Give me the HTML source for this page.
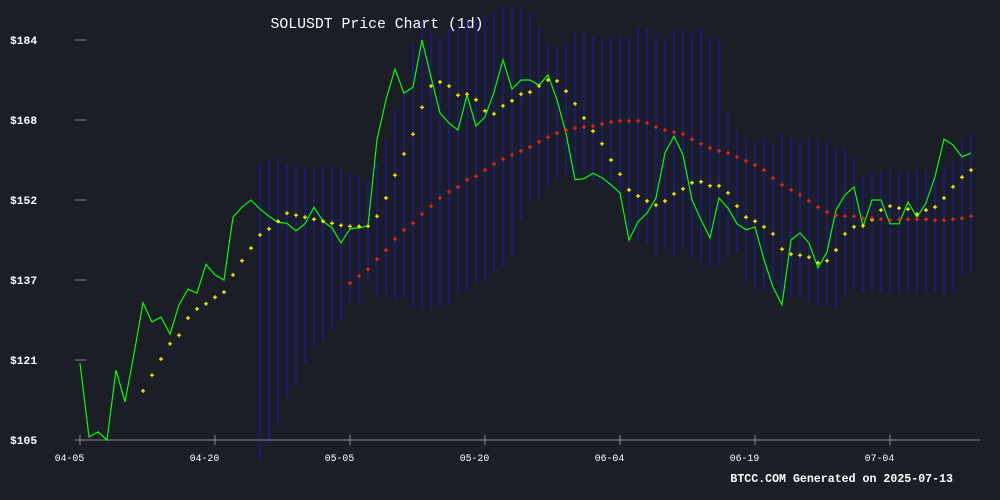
<!DOCTYPE html>
<html><head><meta charset="utf-8"><style>
html,body{margin:0;padding:0;background:#1b1e27;}
svg{display:block;font-family:"Liberation Mono","DejaVu Sans Mono",monospace;}
</style></head><body>
<svg id="chart" width="1000" height="500" viewBox="0 0 1000 500" xmlns="http://www.w3.org/2000/svg">
<rect width="1000" height="500" fill="#1b1e27"/>
<text x="377" y="28" fill="#ffffff" font-size="14.8" text-anchor="middle">SOLUSDT Price Chart (1d)</text>
<text x="953" y="482" fill="#ffffff" font-size="11.6" font-weight="bold" text-anchor="end">BTCC.COM Generated on 2025-07-13</text>
<g id="bands"></g>
<g id="axes"></g>
<g id="lines"></g>
</svg>
<script>
const closes=[120.2,105.6,106.6,105,118.8,112.5,122,132.1,128.3,129.3,125.9,131.7,134.8,134,139.7,137.6,136.6,149,151,152.4,150.6,149.2,148,147.8,146.3,147.7,151,148.2,146.9,143.9,146.7,146.9,147.3,164.3,172.2,178.3,173.5,174.7,184,176.7,169.6,167.6,166.2,173.1,167,168.8,173.7,180.1,174.3,176.1,176.1,175.1,177.1,172.2,165.6,156.4,156.6,157.7,156.8,155.4,153.8,144.5,148.1,149.8,152.8,161.7,165,161.3,152.4,148.5,144.9,152.8,150.8,147.7,146.5,147.1,140.6,135.2,131.7,144.5,145.9,143.9,139,142.1,150.4,153.4,155,147.1,152.4,152.4,147.7,147.7,152,149,151.8,157,164.4,163.3,160.9,161.7];
const maFastStart=7;
const maFast=[114.7,117.8,121,124,125.7,129.1,130.9,131.9,133.2,134.2,137.6,140.4,142.9,145.5,146.7,148.2,149.8,149.4,149,148.6,148.2,147.8,147.4,147.2,147.2,147.2,149.2,152.8,157.3,161.5,165.4,170.7,174.9,175.7,174.9,173.1,173.3,172.2,170,169.4,171,172,173.3,173.7,174.9,176.1,175.9,173.9,171.4,168.6,166,163.5,160.3,157.5,154.4,153.2,152.2,151.4,152.2,153.6,154.6,155.8,156,155.2,155.2,153.8,151.2,149,148.2,147.1,145.7,142.7,141.7,141.5,141.1,140,140.4,142.5,145.7,147.1,147.3,148.5,150.4,151.2,150.8,150.6,149.6,150.4,151,152.8,155,156.9,158.3];
const maSlowStart=30;
const maSlow=[136,137.4,138.7,140.7,142.5,144.7,146.5,147.8,149.6,151.2,152.8,154,155,156.4,157.1,158.3,159.5,160.5,161.3,162.1,162.9,163.9,164.8,165.6,166.2,166.6,166.8,167,167.4,167.8,168,168,168,167.6,166.8,166.2,165.8,165.4,164.4,163.5,162.7,162.1,161.7,160.9,160.1,159.3,158.3,156.7,155.4,154.4,153.4,152.2,151,150,149.4,149.2,149.2,148.8,148.8,148.6,148.4,148.6,148.6,148.6,148.6,148.4,148.4,148.6,148.8,149.2];
const bandStart=20;
const bandHigh=[159.7,160.5,160.7,159.7,159.7,158.7,158.9,159.3,159.1,158.7,157.9,157.3,156.4,159.7,164.6,170.2,173.5,183.4,188,186,184.6,186.4,187,188,188.5,188.9,189.5,190.5,190.9,190.3,189.3,186.6,183.4,182.6,183,185.4,185.4,184.6,184,184.6,184.6,184.6,186.6,186.6,185,184,186,186,185.4,186,184.6,184,169.6,166.2,164.6,163.9,164.6,163.7,165.6,164.6,164.3,164.6,164.6,163.9,162.9,162.7,160.7,157.3,157.9,158.3,158.7,157.9,157.9,158.3,158.7,157.9,158.9,160.3,164.3,165.6];
const bandLow=[100.7,104.4,108,113.3,115.7,120.2,123.4,124.4,126.7,128.7,132.1,132.1,136,133.6,133.6,132.7,133.1,131.3,130.7,130.7,131.1,131.7,134,134.6,136,136.6,138,139.2,141.1,148.5,152.4,152.4,154.4,156.4,157.3,157.3,157.7,156.4,154.8,154.4,153.4,145.5,144.5,143.5,141.1,143.1,141.1,143.1,141.1,140.2,139.2,139.6,141.1,141.9,136.6,135,134.6,134,132.7,133.2,133.2,132.3,131.3,131.3,131.1,133.2,135.2,134,134,134,134,134,134,134,134.2,134,133.2,134.6,137.6,138];
const yTickValues=[105,120.8,136.6,152.4,168.2,184];
const yTickLabels=["$105","$121","$137","$152","$168","$184"];
const xTickDays=[0,15,30,45,60,75,90];
const xTickLabels=["04-05","04-20","05-05","05-20","06-04","06-19","07-04"];

const NS="http://www.w3.org/2000/svg";
const X0=80,DX=9,Y0=440,VMIN=105,VMAX=184,YTOP=40;
function xs(d){return X0+d*DX;}
function ys(v){return Y0-(v-VMIN)*(Y0-YTOP)/(VMAX-VMIN);}
function mk(tag,attrs,parent){const e=document.createElementNS(NS,tag);for(const k in attrs)e.setAttribute(k,attrs[k]);parent.appendChild(e);return e;}

const bands=document.getElementById('bands');
bandHigh.forEach((h,i)=>{const d=bandStart+i;
 const l=mk('rect',{x:xs(d)-0.75,width:1.5,y:ys(h),height:ys(bandLow[i])-ys(h),fill:'#1a1a8e'},bands);
 
 
});

const axes=document.getElementById('axes');
const ax=mk('line',{x1:75,x2:980,y1:440,y2:440,stroke:'#888','stroke-width':1},axes);


yTickValues.forEach((v,i)=>{
 const t=mk('line',{x1:75,x2:86,y1:ys(v),y2:ys(v),stroke:'#888','stroke-width':1},axes);
 
 
 const tx=mk('text',{x:10,y:ys(v)+4,fill:'#fff','font-size':11.3,'font-weight':'bold'},axes);
 tx.textContent=yTickLabels[i];
 
 
});
xTickDays.forEach((d,i)=>{
 const t=mk('line',{x1:xs(d),x2:xs(d),y1:435,y2:445,stroke:'#888','stroke-width':1},axes);
 
 
 const tx=mk('text',{x:xs(d)-10.5,y:461,fill:'#fff','font-size':9.8,'text-anchor':'middle'},axes);
 tx.textContent=xTickLabels[i];
 
 
});

const lines=document.getElementById('lines');
const pl=mk('polyline',{points:closes.map((v,d)=>xs(d)+','+ys(v)).join(' '),fill:'none',stroke:'#00ff00','stroke-width':1.2},lines);


function plus(x,y,c,name){
 const p=mk('path',{d:`M${x-2},${y}h4M${x},${y-2}v4`,stroke:c,'stroke-width':1.2},lines);
 
 
}
maFast.forEach((v,i)=>plus(xs(maFastStart+i),ys(v),'#ffff00','ma-fast-point'));
maSlow.forEach((v,i)=>plus(xs(maSlowStart+i),ys(v),'#ff2020','ma-slow-point'));
</script>
</body></html>
